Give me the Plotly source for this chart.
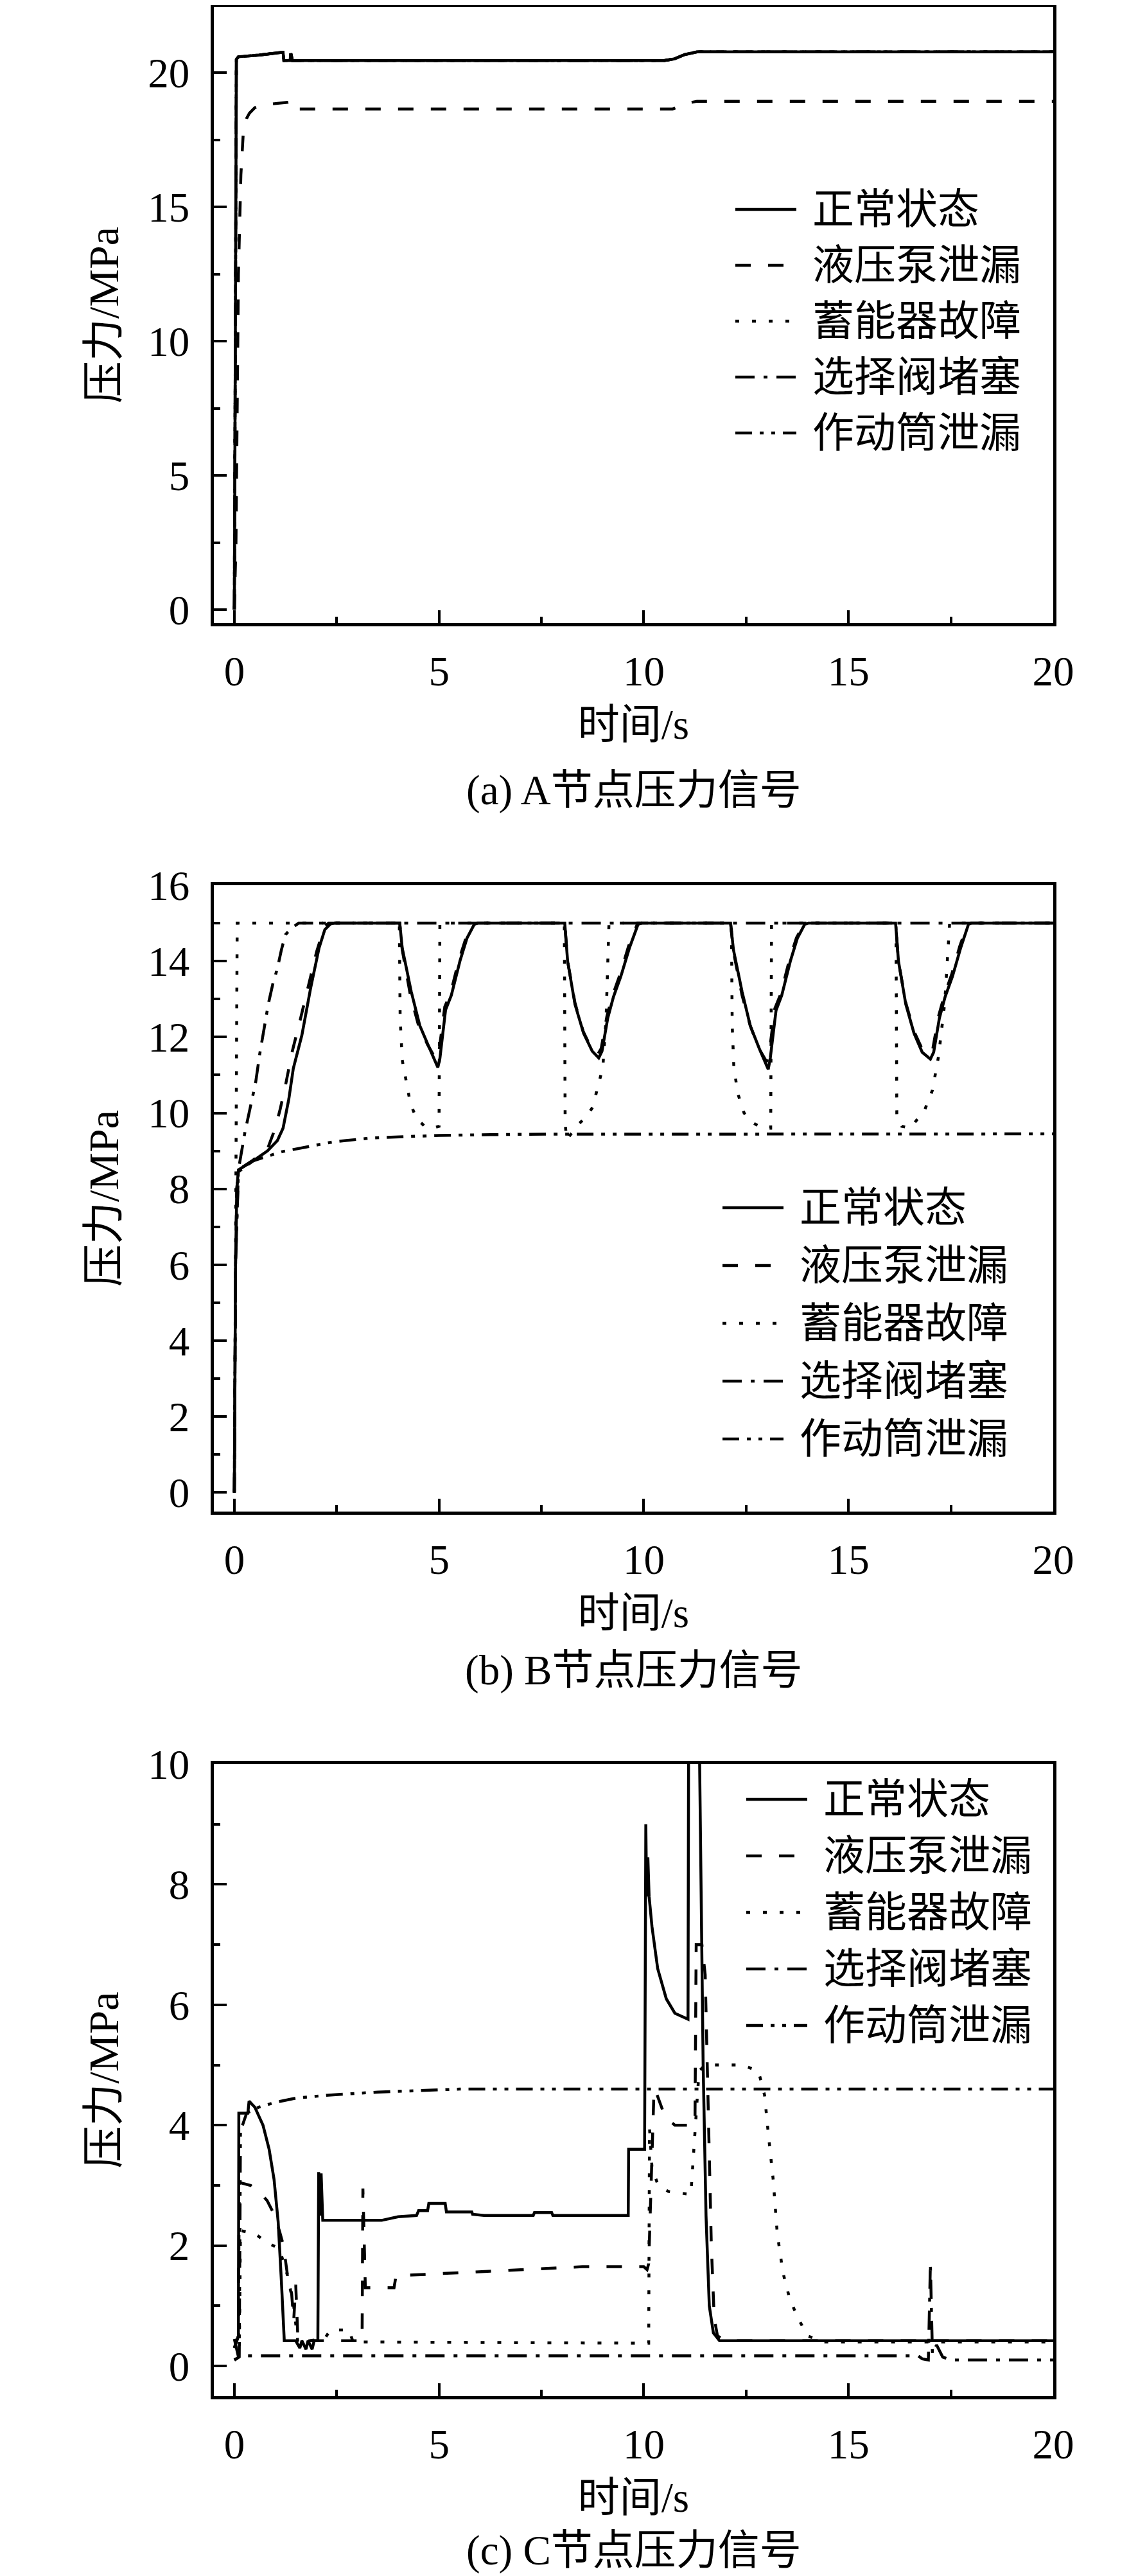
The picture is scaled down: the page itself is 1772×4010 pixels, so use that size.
import plotly.graph_objects as go

W, H = 1772, 4010
NUM_FONT = "Liberation Serif, Times New Roman, serif"
CJK_FONT = "Liberation Serif, Noto Sans CJK SC, serif"

names = ["正常状态", "液压泵泄漏", "蓄能器故障", "选择阀堵塞", "作动筒泄漏"]
dashes = ["solid", "24px,27px", "6px,20px", "30px,14px,6px,14px", "26px,12px,6px,12px,6px,12px"]

# ---------- (a) A node ----------
a_t_normal = [0, 0.02, 0.05, 0.1, 0.6, 1.15, 1.19, 1.21, 1.36, 1.38, 1.42, 10.5, 10.75, 11.0, 11.3, 20]
a_p_normal = [0, 10, 20.5, 20.6, 20.66, 20.76, 20.76, 20.46, 20.46, 20.72, 20.46, 20.46, 20.52, 20.68, 20.78, 20.78]
a_t_pump = [0, 0.04, 0.1, 0.16, 0.22, 0.3, 0.37, 0.5, 0.65, 0.9, 1.1, 1.3, 1.36, 1.4, 10.7, 10.9, 11.05, 11.3, 20]
a_p_pump = [0, 2.5, 12.5, 16.2, 17.8, 18.3, 18.5, 18.7, 18.8, 18.83, 18.86, 18.9, 18.92, 18.65, 18.65, 18.78, 18.86, 18.94, 18.94]
# the other three faults overlap the normal curve at node A
a_t_accum, a_p_accum = a_t_normal, a_p_normal
a_t_valve, a_p_valve = a_t_normal, a_p_normal
a_t_act, a_p_act = a_t_normal, a_p_normal

# ---------- (b) B node ----------
b_t_normal = [0, 0.03, 0.06, 0.1, 0.46, 0.81, 1.05, 1.19, 1.33, 1.44, 1.65, 1.86, 2.07, 2.21, 2.35, 2.45,
              4.04, 4.1, 4.32, 4.53, 4.74, 4.97, 5.02, 5.16, 5.3, 5.51, 5.68, 5.86, 5.95,
              8.07, 8.14, 8.32, 8.53, 8.74, 8.9, 8.98, 9.12, 9.26, 9.44, 9.65, 9.86, 9.95,
              12.12, 12.19, 12.4, 12.6, 12.82, 13.04, 13.09, 13.23, 13.37, 13.58, 13.75, 13.93, 14.02,
              16.15, 16.22, 16.4, 16.6, 16.8, 17.0, 17.08, 17.22, 17.36, 17.54, 17.74, 17.93, 18.0, 20]
b_p_normal = [0, 6.0, 8.0, 8.5, 8.74, 9.0, 9.27, 9.6, 10.36, 11.17, 12.05, 13.27, 14.35, 14.83, 14.98, 15.0,
              15.0, 14.35, 13.2, 12.3, 11.77, 11.2, 11.43, 12.72, 13.1, 14.0, 14.6, 14.97, 15.0,
              15.0, 14.0, 12.86, 12.1, 11.63, 11.45, 11.63, 12.5, 13.06, 13.6, 14.35, 14.97, 15.0,
              15.0, 14.3, 13.2, 12.3, 11.7, 11.15, 11.45, 12.7, 13.1, 14.0, 14.6, 14.97, 15.0,
              15.0, 14.0, 12.86, 12.1, 11.6, 11.42, 11.6, 12.5, 13.06, 13.6, 14.35, 14.97, 15.0, 15.0]
b_t_pump = [0, 0.03, 0.06, 0.1, 0.46, 0.81, 1.0, 1.12, 1.25, 1.41, 1.62, 1.82, 2.01, 2.2, 2.3,
            4.04, 4.1, 4.3, 4.5, 4.72, 4.93, 4.99, 5.14, 5.28, 5.49, 5.66, 5.84, 5.93,
            8.07, 8.14, 8.32, 8.52, 8.72, 8.88, 8.96, 9.1, 9.24, 9.42, 9.63, 9.84, 9.93,
            12.12, 12.19, 12.4, 12.6, 12.8, 13.0, 13.06, 13.2, 13.35, 13.56, 13.73, 13.91, 14.0,
            16.15, 16.22, 16.4, 16.6, 16.8, 16.98, 17.06, 17.2, 17.34, 17.52, 17.72, 17.91, 17.98, 20]
b_p_pump = [0, 6.0, 8.0, 8.5, 8.76, 9.05, 9.6, 10.1, 10.73, 11.6, 12.5, 13.36, 14.25, 14.9, 15.0,
            15.0, 14.3, 13.1, 12.3, 11.8, 11.4, 11.55, 12.8, 13.15, 14.05, 14.62, 14.97, 15.0,
            15.0, 14.0, 12.9, 12.15, 11.7, 11.55, 11.7, 12.55, 13.1, 13.65, 14.4, 14.97, 15.0,
            15.0, 14.25, 13.1, 12.3, 11.72, 11.35, 11.55, 12.75, 13.15, 14.05, 14.62, 14.97, 15.0,
            15.0, 14.0, 12.9, 12.15, 11.68, 11.55, 11.7, 12.55, 13.1, 13.65, 14.4, 14.97, 15.0, 15.0]
b_t_accum = [0, 0.03, 0.07, 4.03, 4.05, 4.1, 4.2, 4.3, 4.45, 4.65, 4.85, 5.0, 5.02,
             8.06, 8.08, 8.12, 8.4, 8.6, 8.75, 8.9, 9.0, 9.08, 9.15,
             12.14, 12.16, 12.2, 12.3, 12.45, 12.65, 12.9, 13.1, 13.12,
             16.16, 16.18, 16.3, 16.5, 16.85, 17.05, 17.2, 17.35, 17.47, 20]
b_p_accum = [0, 8.5, 15, 15, 12.5, 11.4, 10.8, 10.25, 9.85, 9.65, 9.6, 9.65, 15,
             15, 9.7, 9.3, 9.7, 9.9, 10.15, 10.75, 11.2, 12.5, 15,
             15, 12.3, 11.2, 10.5, 10.0, 9.75, 9.6, 9.6, 15,
             15, 9.9, 9.65, 9.6, 10.05, 10.6, 11.5, 12.9, 15, 15]
b_t_valve = [0, 0.03, 0.1, 0.26, 0.41, 0.52, 0.62, 0.73, 0.83, 0.94, 1.05, 1.15, 1.25, 1.41, 1.57, 20]
b_p_valve = [0, 6, 8.5, 9.5, 10.25, 10.8, 11.55, 12.3, 12.87, 13.4, 13.8, 14.3, 14.7, 14.88, 15, 15]
b_t_act = [0, 0.03, 0.1, 0.46, 1.16, 1.72, 2.42, 3.33, 4.3, 5.0, 7.0, 20]
b_p_act = [0, 6, 8.45, 8.74, 8.98, 9.1, 9.24, 9.34, 9.38, 9.41, 9.44, 9.45]

# ---------- (c) C node ----------
c_t_normal = [0, 0.07, 0.1, 0.11, 0.33, 0.36, 0.5, 0.7, 0.85, 0.97, 1.07, 1.15, 1.22,
              1.5, 1.6, 1.65, 1.75, 1.8, 1.9, 1.95, 2.04, 2.06, 2.1, 2.12, 2.16,
              3.6, 4.0, 4.45, 4.5, 4.72, 4.75, 5.15, 5.18, 5.8, 5.82, 6.1, 7.3, 7.33, 7.75, 7.78,
              9.62, 9.63, 10.02, 10.05, 10.07, 10.1, 10.13, 10.2, 10.34, 10.55, 10.76, 11.08,
              11.1, 11.33, 11.38, 11.45, 11.52, 11.6, 11.7, 11.85, 20]
c_p_normal = [0.3, 0.45, 0.5, 4.2, 4.2, 4.4, 4.3, 4.0, 3.6, 3.1, 2.4, 1.4, 0.42,
              0.42, 0.3, 0.42, 0.28, 0.42, 0.28, 0.42, 0.42, 3.22, 2.5, 3.2, 2.42,
              2.42, 2.48, 2.5, 2.58, 2.58, 2.7, 2.7, 2.56, 2.56, 2.52, 2.5, 2.5, 2.55, 2.55, 2.5,
              2.5, 3.6, 3.6, 9.0, 7.8, 8.45, 7.8, 7.3, 6.6, 6.1, 5.86, 5.76,
              12.0, 12.0, 9.0, 5.0, 2.5, 1.0, 0.55, 0.42, 0.42]
c_t_pump = [0, 0.08, 0.1, 0.12, 0.4, 0.6, 0.8, 0.95, 1.1, 1.2, 1.3, 1.4, 1.45, 1.5, 1.55, 1.6,
            3.12, 3.14, 3.18, 3.2, 3.9, 3.95, 5.5, 7.0, 8.5, 10.0, 10.08, 10.12,
            10.25, 10.3, 10.52, 10.76, 11.25, 11.28, 11.42, 11.5, 11.58, 11.65, 11.72, 11.8, 12.0, 20]
c_p_pump = [0.3, 0.45, 0.5, 3.05, 3.0, 2.9, 2.75, 2.55, 2.25, 2.0, 1.5, 1.2, 0.75, 1.35, 0.5, 0.42,
            0.42, 2.95, 1.8, 1.3, 1.3, 1.5, 1.55, 1.6, 1.65, 1.65, 1.6, 1.7,
            4.6, 4.55, 4.14, 4.0, 4.0, 7.0, 7.0, 6.5, 4.0, 2.0, 0.8, 0.5, 0.42, 0.42]
c_t_accum = [0, 0.12, 0.15, 0.5, 0.8, 1.1, 1.3, 1.45, 1.55, 2.2, 2.35, 2.8, 2.9,
             10.1, 10.12, 10.14, 10.2, 10.35, 10.6, 11.15, 11.35, 11.5, 12.4, 12.8,
             12.95, 13.05, 13.16, 13.26, 13.4, 13.57, 13.78, 14.0, 14.4, 20]
c_p_accum = [0.1, 0.15, 2.25, 2.2, 2.05, 1.95, 1.5, 1.0, 0.4, 0.45, 0.6, 0.6, 0.4,
             0.38, 0.38, 3.95, 3.3, 3.0, 2.9, 2.85, 4.9, 5.0, 5.0, 4.9,
             4.5, 3.8, 3.1, 2.2, 1.55, 1.1, 0.78, 0.5, 0.4, 0.4]
c_t_valve = [0, 0.1, 0.3, 16.7, 16.8, 16.95, 17.0, 17.05, 17.15, 17.3, 17.5, 20]
c_p_valve = [0.45, 0.15, 0.17, 0.17, 0.12, 0.1, 1.7, 0.2, 0.35, 0.15, 0.1, 0.1]
c_t_act = [0, 0.12, 0.15, 0.3, 0.6, 1.0, 1.5, 2.3, 3.5, 5.5, 20]
c_p_act = [0.1, 0.15, 3.9, 4.2, 4.3, 4.38, 4.45, 4.5, 4.55, 4.6, 4.6]

panels = [
    dict(series=[(a_t_normal, a_p_normal), (a_t_pump, a_p_pump), (a_t_accum, a_p_accum),
                 (a_t_valve, a_p_valve), (a_t_act, a_p_act)],
         yrange=[-0.5, 22.45], ydtick=5, yminor=2.5,
         box=(3, 962), legend=(1137, 318, 87), caption="(a) A节点压力信号", cap_y=1222),
    dict(series=[(b_t_normal, b_p_normal), (b_t_pump, b_p_pump), (b_t_accum, b_p_accum),
                 (b_t_valve, b_p_valve), (b_t_act, b_p_act)],
         yrange=[-0.5, 16], ydtick=2, yminor=1,
         box=(1370, 2345), legend=(1117, 1872, 90), caption="(b) B节点压力信号", cap_y=2592),
    dict(series=[(c_t_normal, c_p_normal), (c_t_pump, c_p_pump), (c_t_accum, c_p_accum),
                 (c_t_valve, c_p_valve), (c_t_act, c_p_act)],
         yrange=[-0.5, 10], ydtick=2, yminor=1,
         box=(2738, 3722), legend=(1154, 2793, 88), caption="(c) C节点压力信号", cap_y=3962),
]

X0, X1 = 325, 1632
LW = 4.5


def fx(px):
    return px / W


def fy(py):
    return 1 - py / H


fig = go.Figure()
shapes = []
annotations = []
layout = {}

for i, p in enumerate(panels):
    k = "" if i == 0 else str(i + 1)
    # draw the normal curve last so it sits on top
    for j in [1, 2, 3, 4, 0]:
        t, v = p["series"][j]
        fig.add_trace(go.Scatter(
            x=t, y=v, mode="lines", name=names[j], showlegend=False,
            xaxis="x" + k, yaxis="y" + k,
            line=dict(color="black", width=LW, dash=dashes[j]),
        ))

    top, bottom = p["box"]
    common = dict(
        showline=True, linecolor="black", linewidth=4.5, mirror=True,
        ticks="inside", ticklen=20, tickwidth=4, tickcolor="black",
        showgrid=False, zeroline=False, automargin=False,
        tickfont=dict(family=NUM_FONT, size=65, color="black"),
    )
    layout["xaxis" + k] = dict(
        common, domain=[fx(X0), fx(X1)], anchor="y" + k, range=[-0.5, 20],
        tick0=0, dtick=5, ticklabelstandoff=14,
        minor=dict(ticks="inside", ticklen=10, tickwidth=4, tickcolor="black", dtick=2.5, tick0=0),
        title=dict(text="时间/s", font=dict(family=CJK_FONT, size=65, color="black"), standoff=26),
    )
    layout["yaxis" + k] = dict(
        common, domain=[fy(bottom), fy(top)], anchor="x" + k, range=p["yrange"],
        tick0=0, dtick=p["ydtick"], ticklabelstandoff=20,
        minor=dict(ticks="inside", ticklen=10, tickwidth=4, tickcolor="black", dtick=p["yminor"], tick0=0),
        title=dict(text="压力/MPa", font=dict(family=CJK_FONT, size=66, color="black"), standoff=26),
    )

    # legend drawn as line samples + labels inside the panel
    lx, ly, step = p["legend"]
    for j, nm in enumerate(names):
        yy = ly + j * step
        shapes.append(dict(type="line", xref="paper", yref="paper",
                           x0=fx(lx), x1=fx(lx + 95), y0=fy(yy), y1=fy(yy),
                           line=dict(color="black", width=LW, dash=dashes[j])))
        annotations.append(dict(text=nm, xref="paper", yref="paper", x=fx(lx + 118), y=fy(yy),
                                xanchor="left", yanchor="middle", showarrow=False,
                                font=dict(family=CJK_FONT, size=65, color="black")))

    annotations.append(dict(text=p["caption"], xref="paper", yref="paper",
                            x=fx((X0 + X1) / 2), y=fy(p["cap_y"]),
                            xanchor="center", yanchor="middle", showarrow=False,
                            font=dict(family=CJK_FONT, size=65, color="black")))

fig.update_layout(
    width=W, height=H,
    margin=dict(l=0, r=0, t=0, b=0),
    plot_bgcolor="white", paper_bgcolor="white",
    showlegend=False,
    shapes=shapes, annotations=annotations,
    **layout,
)

fig.write_html("out.html")
